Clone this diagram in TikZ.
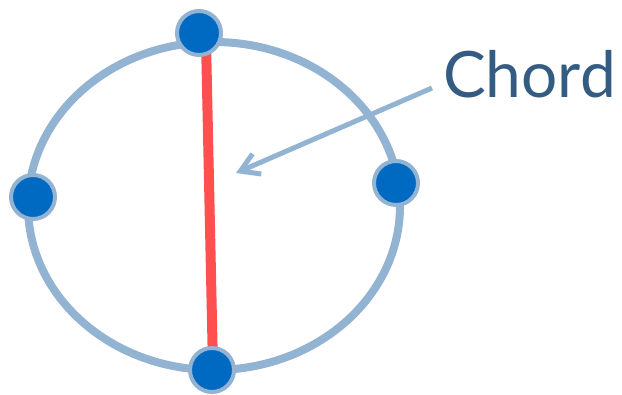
\documentclass[tikz,border=0pt]{standalone}
\usepackage{fontspec}
\setmainfont{Lato}
\usetikzlibrary{arrows.meta,positioning}
\definecolor{ringblue}{RGB}{147,179,211}
\definecolor{dotblue}{RGB}{0,106,194}
\definecolor{chordred}{RGB}{255,79,79}
\definecolor{labelblue}{RGB}{52,92,130}
\begin{document}
\begin{tikzpicture}[x=1pt, y=-1pt,
                       ring/.style={draw=ringblue, line width=8pt},
                       dot/.style={circle, draw=ringblue, fill=dotblue, line width=4pt, minimum size=44pt, inner sep=0pt},
                       chordline/.style={draw=chordred, line width=10pt},
                       pointer/.style={-{Straight Barb[length=18pt, width=22pt]}, draw=ringblue, line width=5pt}]
        \useasboundingbox (0,0) rectangle (622,395);
        % Circle
        \draw[ring] (214,206) ellipse [x radius=186pt, y radius=164pt];
        % Chord ends
        \coordinate (ctop) at (206,40);
        \coordinate (cbot) at (213,368);
        \draw[chordline] (ctop) -- (cbot);
        % Points on the circle
        \node[dot] (ptop) at (199,33) {};
        \node[dot] (pleft) at (33,197) {};
        \node[dot] (pright) at (396,183) {};
        \node[dot] (pbot) at (212,370) {};
        % Label
        \node[anchor=base west, inner sep=0pt, text=labelblue, font=\fontsize{64}{64}\selectfont] (chordlabel) at (443,98) {Chord};
        \coordinate (tail) at (432,88);
        \coordinate (tip) at (236,173);
        \draw[pointer] (tail) -- (tip);
    \end{tikzpicture}
\end{document}
